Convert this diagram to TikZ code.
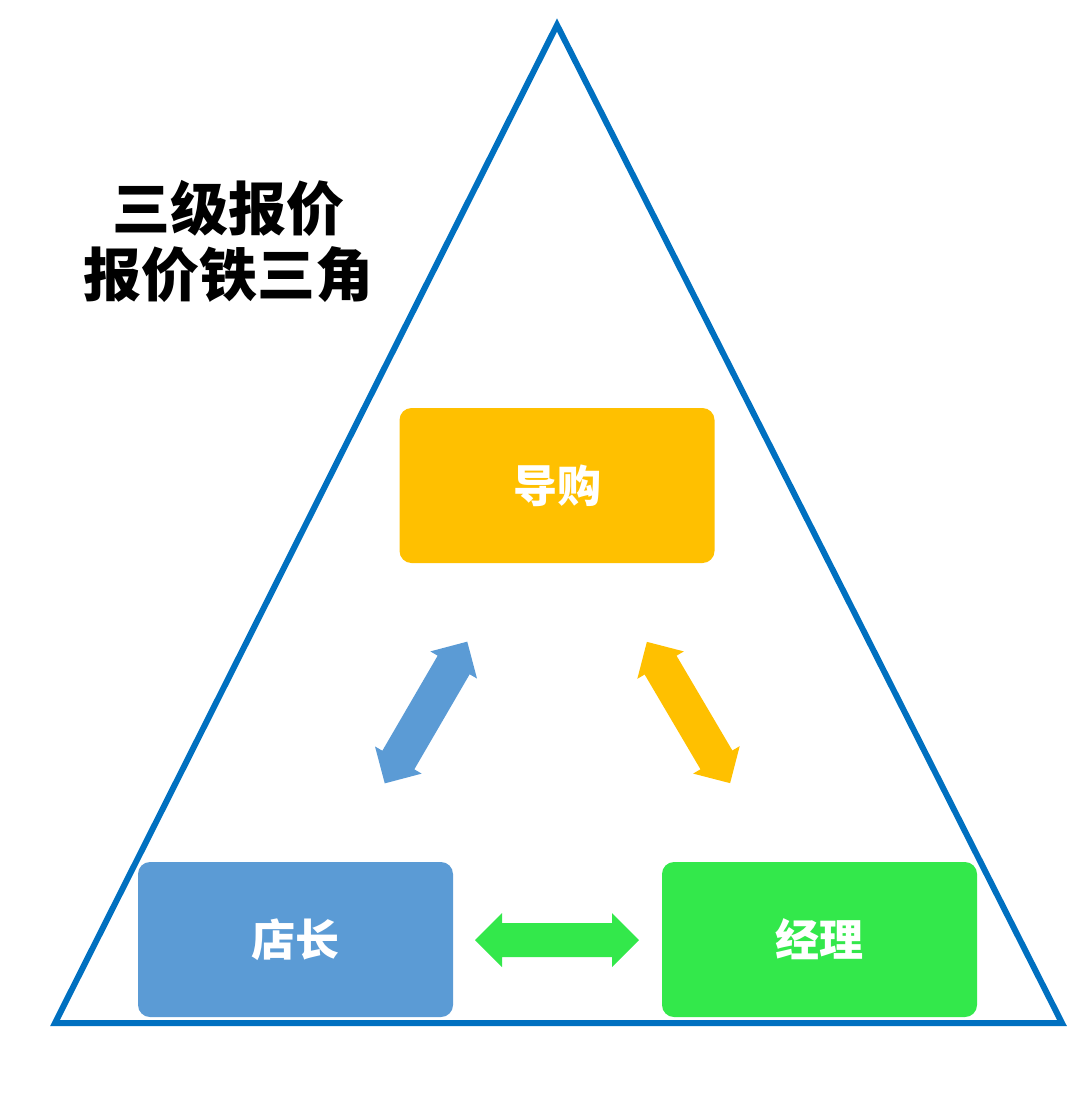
\documentclass[tikz,border=0pt]{standalone}
\usepackage{fontspec}
\usepackage{tikz}
\usetikzlibrary{positioning,calc}
\newfontfamily\cjk{Noto Sans CJK SC}
\newfontfamily\cjkheavy{Noto Sans CJK SC Black}
\definecolor{triblue}{RGB}{0,112,192}
\definecolor{boxblue}{RGB}{91,155,213}
\definecolor{boxgold}{RGB}{255,192,0}
\definecolor{boxgreen}{RGB}{51,232,75}
\tikzset{rolebox/.style={rounded corners=12pt,minimum width=315pt,minimum height=155pt,inner sep=0pt,
  font=\cjk\bfseries\fontsize{44}{48}\selectfont,text=white}}
% colour, centre, angle, half shaft width
\newcommand{\dblarrow}[4]{%
  \fill[#1,shift={(#2)},rotate=#3] (-82,0) -- (-55,27) -- (-55,#4) -- (55,#4) -- (55,27) -- (82,0)
     -- (55,-27) -- (55,-#4) -- (-55,-#4) -- (-55,-27) -- cycle;}

\begin{document}
\begin{tikzpicture}[x=1pt,y=-1pt]
\useasboundingbox (0,0) rectangle (1080,1109);

% outer triangle
\coordinate (apex) at (557,25);
\coordinate (bl) at (55,1023);
\coordinate (br) at (1062,1023);
\draw[triblue,line width=6pt,line join=miter] (apex) -- (br) -- (bl) -- cycle;

\node[font=\cjkheavy\fontsize{58}{66}\selectfont,align=center] (title) at (228,241) {三级报价\\报价铁三角};

\node[rolebox,fill=boxgold] (guide) at (557,485.5) {导购};
\node[rolebox,fill=boxblue] (boss) at (295.5,939.5) {店长};
\node[rolebox,fill=boxgreen] (mgr) at (819.5,939.5) {经理};

% arrows between the roles
\coordinate (gb) at (426,712.5);
\coordinate (gm) at (688.5,712.5);
\coordinate (bm) at (557,940);
\dblarrow{boxblue}{gb}{59.8}{18.5}
\dblarrow{boxgold}{gm}{-59.5}{18.5}
\dblarrow{boxgreen}{bm}{0}{17}

\end{tikzpicture}
\end{document}
